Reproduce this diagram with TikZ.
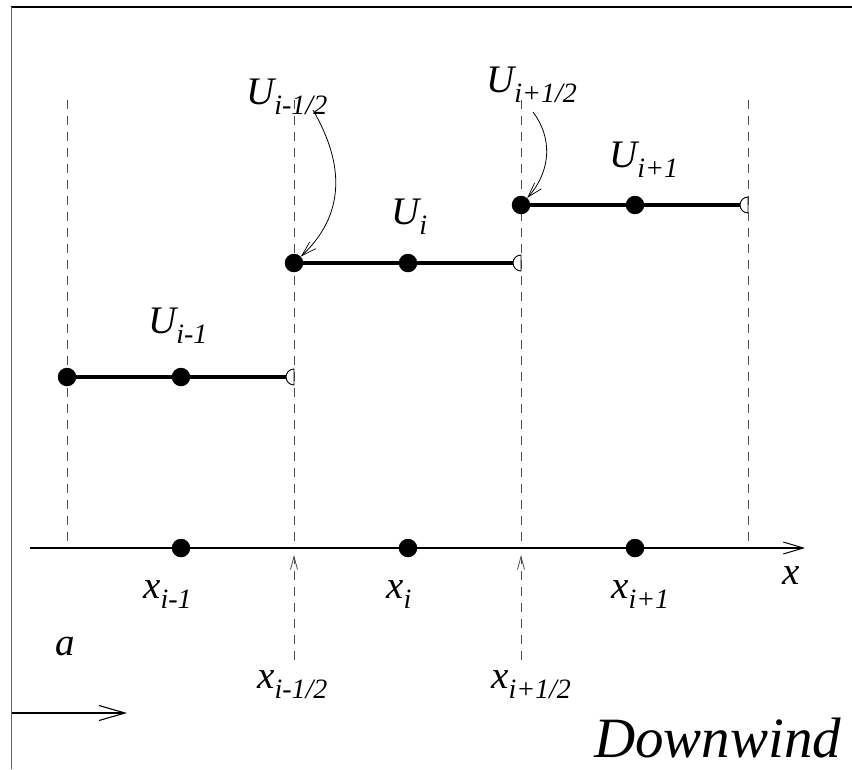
\documentclass[tikz,border=0pt]{standalone}
\usepackage{fontspec}
\setmainfont{Liberation Serif}
\usetikzlibrary{arrows.meta}
\newcommand\lbl[2]{#1\raisebox{-10pt}{\fontsize{28}{28}\selectfont #2}}
\begin{document}
\begin{tikzpicture}[x=1pt,y=-1pt,
  dashline/.style={draw=black!70, line width=1pt, dash pattern=on 9pt off 7pt},
  stepline/.style={line width=3.2pt},
  dot/.style={circle, fill=black, inner sep=0pt, minimum size=18.5pt},
  lab/.style={font=\fontsize{39}{39}\selectfont\itshape, inner sep=0pt, anchor=base west},
  barb/.style={-{Straight Barb[length=20pt,width=12pt,line width=1pt]}},
  thinbarb/.style={-{Straight Barb[length=15pt,width=9pt,line width=0.7pt]}},
  halfc/.style={draw=black, line width=0.9pt, fill=white}]
\useasboundingbox (0,0) rectangle (852,769);
% frame
\draw[line width=1.2pt] (11,7) -- (852,7);
\draw[draw=black!60, line width=1pt] (11,7) -- (11,769);
% dashed vertical lines
\coordinate (v0t) at (67,100); \coordinate (v0b) at (67,548);
\coordinate (v1t) at (294,100); \coordinate (v1b) at (294,660);
\coordinate (v2t) at (521,100); \coordinate (v2b) at (521,660);
\coordinate (v3t) at (748,100); \coordinate (v3b) at (748,548);
\draw[dashline] (v0t) -- (v0b);
\draw[dashline] (v3t) -- (v3b);
\draw[dashline] (v1t) -- (294,548);
\draw[dashline] (v2t) -- (521,548);
\coordinate (a1) at (294,555); \coordinate (a2) at (521,555);
\draw[dashline, -{Straight Barb[length=13pt,width=7pt,line width=0.8pt]}] (v1b) -- (a1);
\draw[dashline, -{Straight Barb[length=13pt,width=7pt,line width=0.8pt]}] (v2b) -- (a2);
% axis
\coordinate (ax0) at (30,548); \coordinate (ax1) at (805,548);
\draw[line width=1.4pt, barb] (ax0) -- (ax1);
\node[dot] (x1) at (181,548) {};
\node[dot] (x2) at (408,548) {};
\node[dot] (x3) at (635,548) {};
% steps
\node[dot] (s1a) at (67,377) {};
\node[dot] (s1b) at (181,377) {};
\coordinate (s1e) at (294,377);
\draw[stepline] (s1a.center) -- (286,377);
\draw[halfc] (294,369) arc[start angle=-90,end angle=-270,radius=8] -- cycle;
\node[dot] (s2a) at (294,263) {};
\node[dot] (s2b) at (408,263) {};
\coordinate (s2e) at (521,263);
\draw[stepline] (s2a.center) -- (513,263);
\draw[halfc] (521,255) arc[start angle=-90,end angle=-270,radius=8] -- cycle;
\node[dot] (s3a) at (521,205) {};
\node[dot] (s3b) at (635,205) {};
\coordinate (s3e) at (748,205);
\draw[stepline] (s3a.center) -- (740,205);
\draw[halfc] (748,197) arc[start angle=-90,end angle=-270,radius=8] -- cycle;
% labels
\node[lab] (Uim) at (148,333) {\lbl{U}{i-1}};
\node[lab] (Ui) at (391,224) {\lbl{U}{i}};
\node[lab] (Uip) at (609,167) {\lbl{U}{i+1}};
\node[lab] (Uimh) at (246,104) {\lbl{U}{i-1/2}};
\node[lab] (Uiph) at (486,92) {\lbl{U}{i+1/2}};
\node[lab] (xim) at (143,598) {\lbl{x}{i-1}};
\node[lab] (xi) at (386,598) {\lbl{x}{i}};
\node[lab] (xip) at (611,598) {\lbl{x}{i+1}};
\node[lab] (xax) at (782,584) {x};
\node[lab] (ximh) at (257,688) {\lbl{x}{i-1/2}};
\node[lab] (xiph) at (491,688) {\lbl{x}{i+1/2}};
\node[lab] (aa) at (55,655) {a};
\node[lab, font=\fontsize{57}{57}\selectfont\itshape] (dw) at (594,757) {Downwind};
% a arrow
\coordinate (w0) at (12,713); \coordinate (w1) at (127,713);
\draw[line width=1.2pt, -{Straight Barb[length=26pt,width=15pt,line width=1.1pt]}] (w0) -- (w1);
% curved pointers
\coordinate (c1s) at (313,110);
\draw[line width=0.8pt, thinbarb] (c1s) .. controls (345,165) and (345,215) .. (s2a);
\coordinate (c2s) at (533,112);
\draw[line width=0.8pt, thinbarb] (c2s) .. controls (552,137) and (552,170) .. (s3a);
\end{tikzpicture}
\end{document}
